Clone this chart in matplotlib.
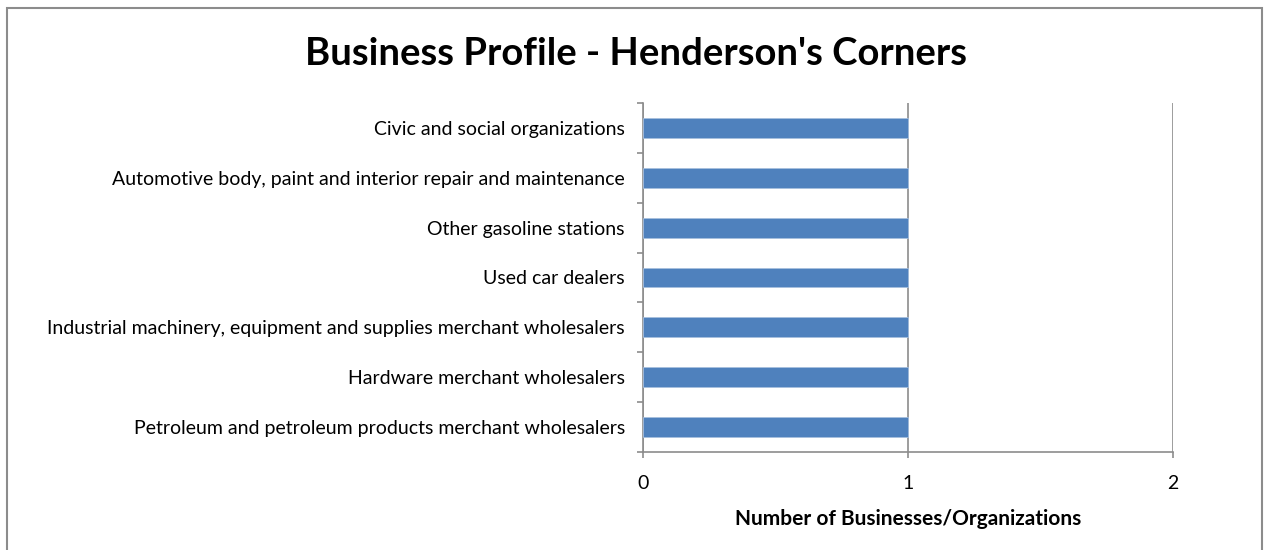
import matplotlib.pyplot as plt
from matplotlib.patches import Rectangle
import numpy as np

plt.rcParams['font.family'] = ['Lato', 'DejaVu Sans']

# business categories, listed bottom to top
categories = [
    'Petroleum and petroleum products merchant wholesalers',
    'Hardware merchant wholesalers',
    'Industrial machinery, equipment and supplies merchant wholesalers',
    'Used car dealers',
    'Other gasoline stations',
    'Automotive body, paint and interior repair and maintenance',
    'Civic and social organizations',
]
counts = [1, 1, 1, 1, 1, 1, 1]
x_ticks = [0, 1, 2]

BAR_COLOR = '#4F81BD'
GRID_COLOR = '#8C8C8C'

fig = plt.figure(figsize=(12.66, 5.5), dpi=100)
ax = fig.add_axes([643 / 1266, 1 - 452 / 550, 530 / 1266, 349 / 550])

y = np.arange(len(categories))
ax.barh(y, counts, height=0.4, color=BAR_COLOR, edgecolor='#A7BFDE', linewidth=0.6, zorder=3)

ax.set_xlim(0, 2)
ax.set_ylim(-0.5, len(categories) - 0.5)
ax.set_xticks(x_ticks)
ax.set_xticklabels([str(t) for t in x_ticks], fontsize=14)

# category labels sit between the boundary tick marks
ax.set_yticks(y)
ax.set_yticklabels(categories, fontsize=14)
ax.tick_params(axis='y', which='major', length=0, pad=13)
ax.set_yticks(np.arange(len(categories) + 1) - 0.5, minor=True)
ax.tick_params(axis='y', which='minor', length=4.5, width=1.2, color=GRID_COLOR, direction='out')
ax.tick_params(axis='x', length=4.5, width=1.2, color=GRID_COLOR, direction='out', pad=12)

ax.xaxis.grid(True, color=GRID_COLOR, linewidth=1.2, zorder=1)
ax.set_axisbelow(True)
for side in ['top', 'right']:
    ax.spines[side].set_visible(False)
for side in ['left', 'bottom']:
    ax.spines[side].set_color(GRID_COLOR)
    ax.spines[side].set_linewidth(1.2)

ax.set_xlabel('Number of Businesses/Organizations', fontsize=15, fontweight='bold', labelpad=12)

fig.text(636 / 1266, 1 - 54 / 550, "Business Profile - Henderson's Corners",
         ha='center', va='center', fontsize=27.5, fontweight='bold')

# chart border
fig.patches.append(Rectangle((6.5 / 1266, -0.05), 1255 / 1266, 1.05 - 7.5 / 550,
                             transform=fig.transFigure, fill=False,
                             edgecolor='#8C8C8C', linewidth=1.5))

fig.savefig('out.png', dpi=100)
